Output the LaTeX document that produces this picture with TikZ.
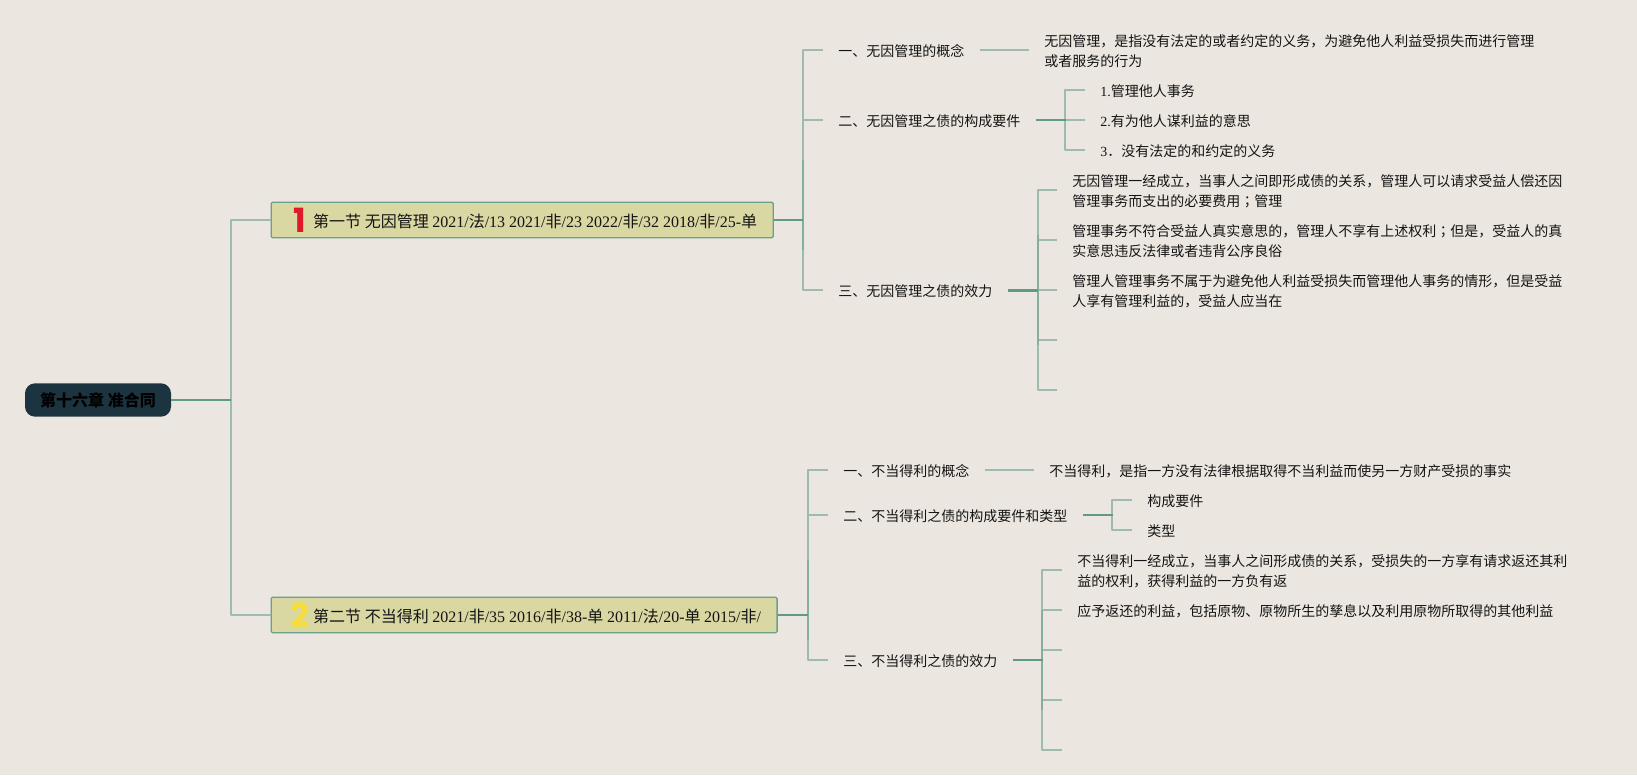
\documentclass[tikz,border=0pt]{standalone}
\usepackage{fontspec}
\setmainfont{Noto Sans CJK SC}
\newfontfamily\latfont{Liberation Serif}
\newfontfamily\tcfont{Noto Sans CJK TC}
\newfontfamily\numfont{Poppins}
\definecolor{pagebg}{HTML}{EBE7E0}
\definecolor{rootfill}{HTML}{1C3440}
\definecolor{secfill}{HTML}{D9D7A2}
\definecolor{secline}{HTML}{6E9F8A}
\definecolor{stemcol}{HTML}{5F9A85}
\definecolor{midcol}{HTML}{86AE9C}
\definecolor{twigcol}{HTML}{9DBCAB}
\definecolor{inkcol}{HTML}{141414}
\definecolor{onered}{HTML}{DE1A2A}
\definecolor{twoyellow}{HTML}{F5DD3E}
\newcommand{\lat}[1]{{\latfont #1}}
\newcommand{\secbadge}[2]{\makebox[19.5pt][c]{\smash{\raisebox{-3.6pt}{\fontsize{25}{25}\numfont\bfseries\color{#1}#2}}}}
\tikzset{
  rootbox/.style={draw=none,fill=rootfill,rounded corners=7.5pt,minimum width=109.5pt,minimum height=25pt,inner sep=0pt,font=\fontsize{12}{15}\selectfont\bfseries,text=black},
  secbox/.style={draw=secline,line width=1pt,fill=secfill,rounded corners=1pt,anchor=west,minimum height=26.6pt,inner xsep=12pt,inner ysep=0pt,text height=11.6pt,text depth=0.6pt,font=\fontsize{12}{15}\selectfont,text=inkcol},
  leaf/.style={anchor=west,inner xsep=11.25pt,inner ysep=0pt,align=left,font=\fontsize{10.5}{15}\selectfont,text=inkcol},
  twig/.style={draw=twigcol,line width=1.5pt,line join=round},
  stem/.style={draw=stemcol,line width=1.6pt},
  midline/.style={draw=midcol,line width=1.5pt}
}
\begin{document}
\begin{tikzpicture}[x=0.75pt,y=-0.75pt]
\fill[pagebg] (0,0) rectangle (1637,775);
\useasboundingbox (0,0) rectangle (1637,775);
\node[rootbox] (root) at (98,400) {第十六章 准合同};
\node[secbox] (sec1) at (270.5,220) {\secbadge{onered}{1}第一节 无因管理 \lat{2021/}法\lat{/13 2021/}非\lat{/23 2022/}非\lat{/32 2018/}非\lat{/25-}单};
\node[secbox] (sec2) at (270.5,615) {\secbadge{twoyellow}{2}第二节 不当得利 \lat{2021/}非\lat{/35 2016/}非\lat{/38-}单 \lat{2011/}法\lat{/20-}单 \lat{2015/}非\lat{/}};
\coordinate (trunk) at (231,400);
\coordinate (brA) at (803,220);
\coordinate (brAb) at (1065,119.5);
\coordinate (brAc) at (1037.5,290);
\coordinate (brB) at (808,615);
\coordinate (brBb) at (1111.5,515);
\coordinate (brBc) at (1041.5,660);
\node[leaf] (a1) at (823,50.7) {一、无因管理的概念};
\node[leaf] (a1t) at (1029,50.7) {无因管理，是指没有法定的或者约定的义务，为避免他人利益受损失而进行管理\\或者服务的行为};
\node[leaf] (a2) at (823,121) {二、无因管理之债的构成要件};
\node[leaf] (a21) at (1085,91) {\lat{1.}管理他人事务};
\node[leaf] (a22) at (1085,121) {\lat{2.}有为他人谋利益的意思};
\node[leaf] (a23) at (1085,151) {\lat{3}．没有法定的和约定的义务};
\node[leaf] (a3) at (823,291.5) {三、无因管理之债的效力};
\node[leaf] (a31) at (1057,191) {无因管理一经成立，当事人之间即形成债的关系，管理人可以请求受益人偿还因\\管理事务而支出的必要费用{\tcfont ；}管理};
\node[leaf] (a32) at (1057,241) {管理事务不符合受益人真实意思的，管理人不享有上述权利{\tcfont ；}但是，受益人的真\\实意思违反法律或者违背公序良俗};
\node[leaf] (a33) at (1057,291) {管理人管理事务不属于为避免他人利益受损失而管理他人事务的情形，但是受益\\人享有管理利益的，受益人应当在};
\coordinate (a34) at (1057,341);
\coordinate (a35) at (1057,391);
\node[leaf] (b1) at (828,471) {一、不当得利的概念};
\node[leaf] (b1t) at (1034,471) {不当得利，是指一方没有法律根据取得不当利益而使另一方财产受损的事实};
\node[leaf] (b2) at (828,516) {二、不当得利之债的构成要件和类型};
\node[leaf] (b21) at (1132,501.5) {构成要件};
\node[leaf] (b22) at (1132,531) {类型};
\node[leaf] (b3) at (828,661) {三、不当得利之债的效力};
\node[leaf] (b31) at (1062,571.5) {不当得利一经成立，当事人之间形成债的关系，受损失的一方享有请求返还其利\\益的权利，获得利益的一方负有返};
\node[leaf] (b32) at (1062,611.5) {应予返还的利益，包括原物、原物所生的孳息以及利用原物所取得的其他利益};
\coordinate (b33) at (1062,651);
\coordinate (b34) at (1062,701);
\coordinate (b35) at (1062,751);
\foreach \to in {sec1,sec2}
  \draw[twig] (trunk) |- (\to.west);
\foreach \to in {a1,a2,a3}
  \draw[twig] (brA) |- ([yshift=0.8pt]\to.west);
\foreach \to in {a21,a22,a23}
  \draw[twig] (brAb) |- ([yshift=0.8pt]\to.west);
\foreach \to in {a31,a32,a33,a34,a35}
  \draw[twig] (brAc) |- ([yshift=0.8pt]\to.west);
\foreach \to in {b1,b2,b3}
  \draw[twig] (brB) |- ([yshift=0.8pt]\to.west);
\foreach \to in {b21,b22}
  \draw[twig] (brBb) |- ([yshift=0.8pt]\to.west);
\foreach \to in {b31,b32,b33,b34,b35}
  \draw[twig] (brBc) |- ([yshift=0.8pt]\to.west);
\draw[midline] (803,160) -- (803,250);
\draw[midline] (808,560) -- (808,640);
\draw[midline] (1037.5,235) -- (1037.5,345);
\draw[midline] (1041.5,610) -- (1041.5,710);
\draw[twig] ([yshift=0.8pt]a1.east) -- ([yshift=0.8pt]a1t.west);
\draw[twig] ([yshift=0.8pt]b1.east) -- ([yshift=0.8pt]b1t.west);
\draw[stem] (root.east) -- (trunk);
\draw[stem] (sec1.east) -- (brA);
\draw[stem] (sec2.east) -- (brB);
\draw[stem] ([yshift=0.8pt]a2.east) -- ++(30,0);
\draw[stem] ([yshift=0.8pt]a3.east) -- ++(30,0);
\draw[stem] ([yshift=0.8pt]b2.east) -- ++(30,0);
\draw[stem] ([yshift=0.8pt]b3.east) -- ++(30,0);
\end{tikzpicture}
\end{document}
